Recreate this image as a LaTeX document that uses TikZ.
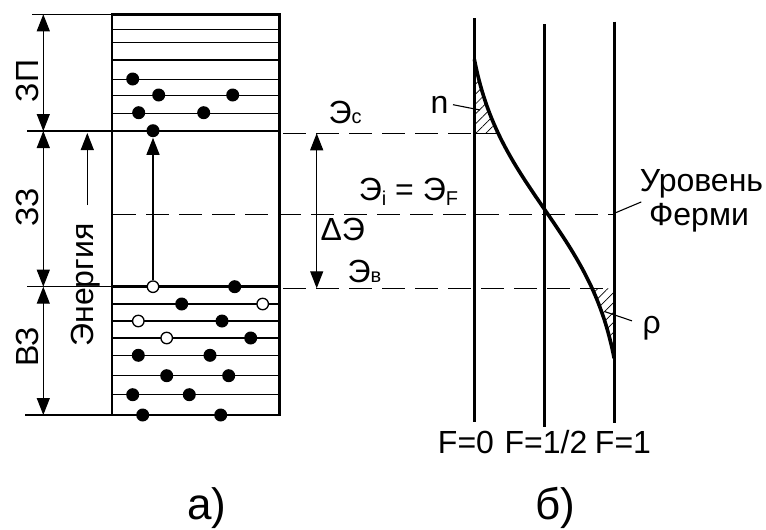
\documentclass[tikz,border=0pt]{standalone}
\usepackage{fontspec}
\setmainfont{Liberation Sans}
\usetikzlibrary{arrows.meta,patterns.meta}
\newcommand\ssub[2][0pt]{\raisebox{-#1}{\fontsize{20}{20}\selectfont #2}}

\begin{document}
\begin{tikzpicture}[x=1pt, y=-1pt, line width=1.2pt,
  font=\fontsize{32}{36}\selectfont,
  >={Triangle[length=17pt,width=13pt]},
  band/.style={line width=1.1pt},
  rim/.style={line width=2.6pt},
  level/.style={line width=1.2pt, dash pattern=on 23pt off 10pt},
  dot/.style={circle, fill=black, inner sep=0pt, minimum size=13pt},
  hole/.style={circle, draw, fill=white, line width=1.3pt, inner sep=0pt, minimum size=11.5pt},
  hatch/.style={pattern={Lines[angle=45,distance=7pt,line width=.7pt]}},
  lbl/.style={inner sep=0pt, anchor=base west},
  tag/.style={inner sep=0pt, anchor=base},
  declare function={fermi(\e)=474.3+140*(1/(1+exp((209-\e)/60))-0.0759)/0.8483;}]
  \useasboundingbox (0,0) rectangle (766,530);

  % a) band diagram -- levels, edges, electrons and holes
  \foreach \y in {29.3,42.7,60,79.3,95.3,113.3,304,321,338,355.3,375.7,394.7}
    \draw[band] (112,\y) -- (279.5,\y);
  \draw[rim] (112,131) -- (279.5,131);
  \draw[rim] (112,286.7) -- (279.5,286.7);
  \draw[rim] (112,14.3) rectangle (279.5,415);

  \foreach \x/\y [count=\i] in {132.7/79, 158.7/95, 232.7/95, 138.7/112.7, 203.7/112.7}
    \node[dot] (c\i) at (\x,\y) {};
  \node[dot] (top) at (153,130.7) {};
  \foreach \x/\y [count=\i] in {234.7/286.7, 181.7/304, 222/321, 250.7/338, 138.3/355.3, 210/355.3,
      166.7/375.7, 228.7/375.7, 132.7/394.7, 189.3/394.7, 142.7/415, 220.7/415}
    \node[dot] (v\i) at (\x,\y) {};
  \foreach \x/\y [count=\i] in {262.7/304, 138.3/321, 166.7/338}
    \node[hole] (h\i) at (\x,\y) {};
  \node[hole] (bottom) at (153,286.7) {};
  \draw[->] (bottom) -- (top);

  % dimension marks on the left
  \draw[band] (32,14.3) -- (112,14.3);
  \draw[band] (27,131) -- (112,131);
  \draw[band] (27,286.7) -- (112,286.7);
  \draw[band] (25,415) -- (112,415);
  \coordinate (d0) at (43.3,14.3);
  \coordinate (d1) at (43.3,131);
  \coordinate (d2) at (43.3,286.7);
  \coordinate (d3) at (43.3,415);
  \draw[<->] (d0) -- (d1);
  \draw[<->] (d1) -- (d2);
  \draw[<->] (d2) -- (d3);
  \node[tag, rotate=90] (zp) at (38.3,81) {ЗП};
  \node[tag, rotate=90] (zz) at (38.3,207) {ЗЗ};
  \node[tag, rotate=90] (vz) at (38.3,347) {ВЗ};
  \node[tag, rotate=90] (energy) at (93,285) {Энергия};
  \coordinate (e0) at (87.3,205);
  \coordinate (e1) at (87.3,133);
  \draw[->] (e0) -- (e1);

  % b) Fermi function
  \fill[hatch] (474.3,59.3) -- plot[domain=59.3:133.3, samples=30] ({fermi(\x)},\x) -- (474.3,133.3) -- cycle;
  \fill[hatch] (614.3,288.3) -- plot[domain=288.3:358.3, samples=30] ({fermi(\x)},\x) -- cycle;
  \draw[level] (283,133.3) -- (474.3,133.3);
  \draw[band] (474.3,133.3) -- ({fermi(133.3)},133.3);
  \draw[level] (113,214.5) -- (614.3,214.5);
  \draw[level] (283,288.3) -- (614.3,288.3);
  \draw[line width=3.6pt] plot[domain=59.3:358.3, samples=100, smooth] ({fermi(\x)},\x);
  \draw[rim] (474.3,18) -- (474.3,421.7);
  \draw[rim] (544.3,24) -- (544.3,426.7);
  \draw[rim] (614.3,21.7) -- (614.3,423.3);

  \coordinate (g0) at (316.7,133.3);
  \coordinate (g1) at (316.7,288.3);
  \draw[<->] (g0) -- (g1);
  \node[lbl] (ec) at (328,123.3) {Э\ssub{с}};
  \node[lbl] (ei) at (358.3,200) {Э\ssub[5pt]{i} = Э\ssub[5pt]{F}};
  \node[lbl] (dE) at (320,240) {ΔЭ};
  \node[lbl] (ev) at (347,282) {Э\ssub{в}};

  \node[lbl] (n) at (430,113.3) {n};
  \coordinate (nl) at (480,110);
  \draw[band] ([xshift=4pt]n.east) -- (nl);
  \node[lbl] (rho) at (642,333.7) {ρ};
  \coordinate (rl) at (605,311.7);
  \draw[band] (rl) -- ([shift={(-10,5)}]rho.north west);
  \node[tag] (lvl1) at (701.5,191.7) {Уровень};
  \node[tag] (lvl2) at (699,225) {Ферми};
  \coordinate (fl) at (615,213);
  \draw[band] (fl) -- ([shift={(2,3)}]lvl1.south west);

  \node[tag] (F0) at (466,453) {F=0};
  \node[tag] (F1) at (546,453) {F=1/2};
  \node[tag] (F2) at (623,453) {F=1};
  \node[lbl, font=\fontsize{44}{48}\selectfont] (a) at (186.5,519.5) {а)};
  \node[lbl, font=\fontsize{44}{48}\selectfont] (b) at (535,519.5) {б)};
\end{tikzpicture}
\end{document}
